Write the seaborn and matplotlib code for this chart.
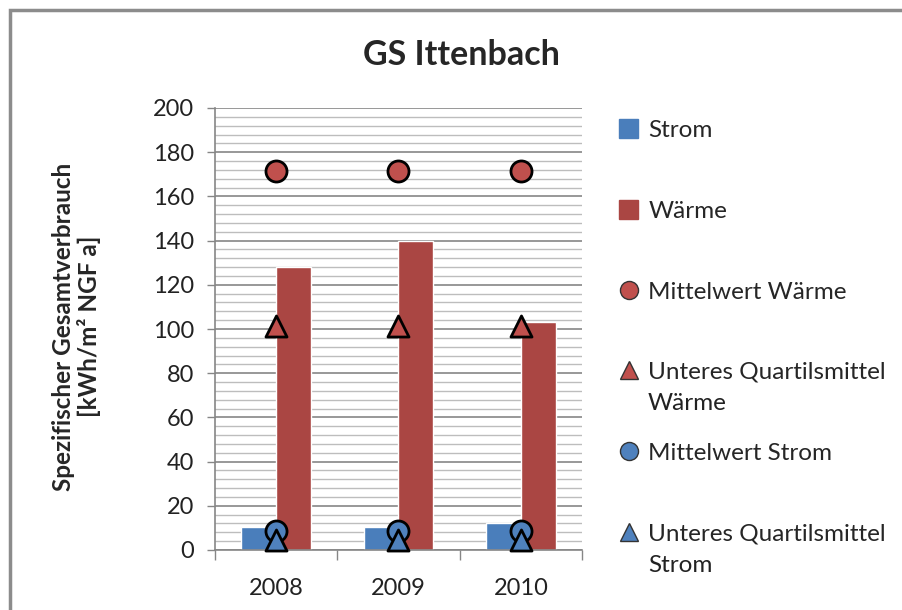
import matplotlib
matplotlib.use("Agg")
import matplotlib.pyplot as plt
import matplotlib.ticker as ticker
from matplotlib.patches import Patch, Rectangle
from matplotlib.lines import Line2D
import seaborn as sns
import pandas as pd
import numpy as np

years = ["2008", "2009", "2010"]
strom = [10.5, 10.5, 12.0]
waerme = [128, 140, 103]
mittel_waerme = [171.5, 171.5, 171.5]
quartil_waerme = [101.5, 101.5, 101.5]
mittel_strom = [8.5, 8.5, 8.5]
quartil_strom = [4.5, 4.5, 4.5]

blue = "#4A7EBB"
red = "#AA4643"
blue_m = "#4F81BD"
red_m = "#C0504D"

df = pd.DataFrame({
    "Jahr": years * 2,
    "Wert": strom + waerme,
    "Art": ["Strom"] * 3 + ["Wärme"] * 3,
})

sns.set_theme(style="white")
plt.rcParams["font.family"] = ["Lato", "DejaVu Sans"]

fig = plt.figure(figsize=(9.03, 6.10), dpi=100)
ax = fig.add_axes([215 / 903, 60 / 610, 367 / 903, 442 / 610])

sns.barplot(data=df, x="Jahr", y="Wert", hue="Art", palette=[blue, red],
            width=0.57, saturation=1, ax=ax, legend=False, zorder=2)

xs = np.arange(len(years))
ax.scatter(xs, mittel_waerme, s=230, marker="o", color=red_m, edgecolor="black", linewidth=2, zorder=4)
ax.scatter(xs, quartil_waerme, s=230, marker="^", color=red_m, edgecolor="black", linewidth=2, zorder=4)
ax.scatter(xs, mittel_strom, s=230, marker="o", color=blue_m, edgecolor="black", linewidth=2, zorder=4, clip_on=False)
ax.scatter(xs, quartil_strom, s=230, marker="^", color=blue_m, edgecolor="black", linewidth=2, zorder=5, clip_on=False)

ax.set_xlim(-0.5, 2.5)
ax.set_ylim(0, 200)
ax.yaxis.set_major_locator(ticker.MultipleLocator(20))
ax.yaxis.set_minor_locator(ticker.MultipleLocator(4))
ax.grid(axis="y", which="major", color="#868686", linewidth=1.2, zorder=0)
ax.grid(axis="y", which="minor", color="#BDBDBD", linewidth=1.0, zorder=0)
ax.set_axisbelow(True)
ax.xaxis.set_major_locator(ticker.FixedLocator(xs))
ax.xaxis.set_minor_locator(ticker.FixedLocator([-0.5, 0.5, 1.5, 2.5]))
ax.set_xticklabels(years)
ax.tick_params(axis="x", which="major", length=0, labelsize=17, pad=20, colors="#222222")
ax.tick_params(axis="x", which="minor", length=7, width=1, color="#868686", direction="out", bottom=True)
ax.tick_params(axis="y", which="major", length=6, width=1, color="#868686", direction="out", left=True,
               labelsize=17, pad=9, labelcolor="#222222")
ax.tick_params(axis="y", which="minor", length=0)

for side in ["top", "right"]:
    ax.spines[side].set_visible(False)
for side in ["left", "bottom"]:
    ax.spines[side].set_color("#868686")
    ax.spines[side].set_linewidth(1.2)

ax.set_xlabel("")
ax.set_ylabel("Spezifischer Gesamtverbrauch\n[kWh/m² NGF a]", fontsize=17.5, fontweight="bold",
              linespacing=1.1)
ax.yaxis.set_label_coords(-0.31, 0.505)

fig.text(461 / 903, 1 - 55 / 610, "GS Ittenbach", ha="center", va="center",
         fontsize=24.5, fontweight="bold")

handles = [
    Patch(facecolor=blue, edgecolor=blue),
    Patch(facecolor=red, edgecolor=red),
    Line2D([], [], linestyle="none", marker="o", markersize=13, markerfacecolor=red_m, markeredgecolor="#333333"),
    Line2D([], [], linestyle="none", marker="^", markersize=13, markerfacecolor=red_m, markeredgecolor="#333333"),
    Line2D([], [], linestyle="none", marker="o", markersize=13, markerfacecolor=blue_m, markeredgecolor="#333333"),
    Line2D([], [], linestyle="none", marker="^", markersize=13, markerfacecolor=blue_m, markeredgecolor="#333333"),
]
labels = ["Strom", "Wärme", "Mittelwert Wärme", "Unteres Quartilsmittel\nWärme",
          "Mittelwert Strom", "Unteres Quartilsmittel\nStrom"]
entry_y = [130, 211, 292, 372, 453, 534]

for h, lab, yc in zip(handles, labels, entry_y):
    lines = lab.split("\n")
    fig.legend([h], [lines[0]], loc="center left", bbox_to_anchor=(619 / 903, 1 - yc / 610),
               frameon=False, fontsize=17.5, handlelength=0.8, handleheight=0.8, handletextpad=0.4,
               borderpad=0, borderaxespad=0)
    for k, extra in enumerate(lines[1:], start=1):
        fig.text(648 / 903, 1 - (yc + 32 * k) / 610, extra, ha="left", va="center", fontsize=17.5,
                 color="#222222")

fig.patches.append(Rectangle((10 / 903, -0.1), 1.2, 1 - 10 / 610 + 0.1, transform=fig.transFigure,
                             fill=False, edgecolor="#8C8C8C", linewidth=2.5))

fig.savefig("out.png", dpi=100)
